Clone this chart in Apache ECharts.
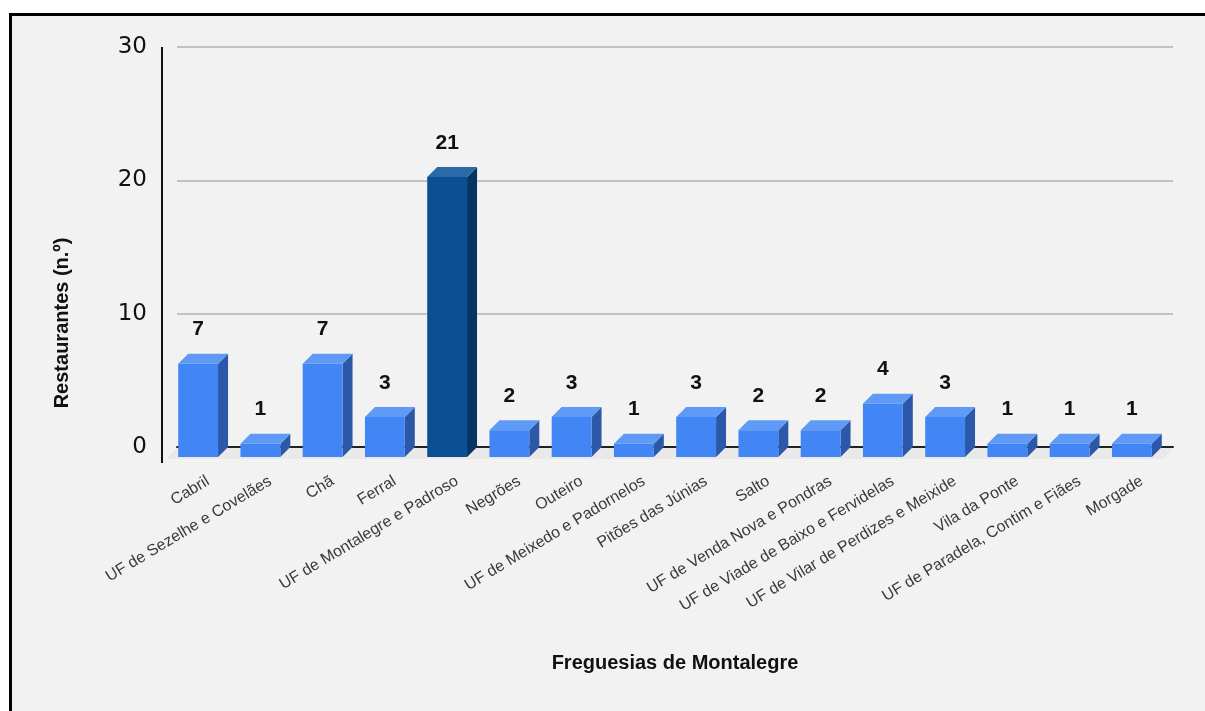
<!DOCTYPE html>
<html>
<head>
<meta charset="utf-8">
<script src="https://cdn.jsdelivr.net/npm/echarts@6/dist/echarts.min.js"></script>
<style>
  html, body { margin: 0; padding: 0; background: #ffffff; }
  #frame { position: absolute; left: 9px; top: 13px; width: 1300px; height: 800px;
           border-left: 3px solid #000; border-top: 3px solid #000; background: #f2f2f2; }
  #chart { position: absolute; left: 0; top: 0; width: 1205px; height: 711px; }
</style>
</head>
<body>
<div id="frame"></div>
<div id="chart"></div>
<script>
const categories = [
  'Cabril', 'UF de Sezelhe e Covelães', 'Chã', 'Ferral', 'UF de Montalegre e Padroso',
  'Negrões', 'Outeiro', 'UF de Meixedo e Padornelos', 'Pitões das Júnias', 'Salto',
  'UF de Venda Nova e Pondras', 'UF de Viade de Baixo e Fervidelas',
  'UF de Vilar de Perdizes e Meixide', 'Vila da Ponte', 'UF de Paradela, Contim e Fiães', 'Morgade'
];
const restaurants = [7, 1, 7, 3, 21, 2, 3, 1, 3, 2, 2, 4, 3, 1, 1, 1];
const yTicks = [0, 10, 20, 30];
const highlighted = 'UF de Montalegre e Padroso';

const xTitle = 'Freguesias de Montalegre';
const yTitle = 'Restaurantes (n.º)';

const normalColors = { front: '#4285f4', side: '#2b58a8', top: '#5f9bf6' };
const highColors = { front: '#0c4f92', side: '#073463', top: '#2b6aa8' };
const DX = 10, DY = 10;
const narrow = "'Liberation Sans Narrow', 'Arial Narrow', 'Liberation Sans', sans-serif";

const chart = echarts.init(document.getElementById('chart'), null, { renderer: 'canvas' });

function renderItem(params, api) {
  const idx = api.value(0);
  const v = api.value(1);
  const base = api.coord([idx, 0]);
  const top = api.coord([idx, v]);
  const band = api.size([1, 0])[0];
  const w = band * 0.64;
  const cx = base[0];
  const cs = params.coordSys;
  const col = categories[idx] === highlighted ? highColors : normalColors;
  const children = [];
  if (params.dataIndex === 0) {
    children.push({
      type: 'polygon',
      shape: { points: [[cs.x, base[1] + 1], [cs.x + cs.width, base[1] + 1],
                        [cs.x + cs.width - DX, base[1] + DY + 2], [cs.x - DX, base[1] + DY + 2]] },
      style: { fill: '#e9e9e9' }
    });
    children.push({
      type: 'line',
      shape: { x1: cs.x - 15, y1: cs.y, x2: cs.x - 15, y2: cs.y + cs.height + DY + 6 },
      style: { stroke: '#111', lineWidth: 2 }
    });
  }
  const fl = cx - DX - w / 2, fr = cx - DX + w / 2;
  children.push({
    type: 'polygon',
    shape: { points: [[fr, top[1] + DY], [cx + w / 2, top[1]], [cx + w / 2, base[1]], [fr, base[1] + DY]] },
    style: { fill: col.side }
  });
  children.push({
    type: 'polygon',
    shape: { points: [[fl, top[1] + DY], [cx - w / 2, top[1]], [cx + w / 2, top[1]], [fr, top[1] + DY]] },
    style: { fill: col.top }
  });
  children.push({
    type: 'rect',
    shape: { x: fl, y: top[1] + DY, width: w, height: base[1] - top[1] },
    style: { fill: col.front }
  });
  children.push({
    type: 'text',
    style: { text: String(v), x: cx - DX, y: top[1] - 24, align: 'center', verticalAlign: 'middle',
             fill: '#111', font: 'bold 21px ' + narrow }
  });
  return { type: 'group', children };
}

chart.setOption({
  backgroundColor: 'transparent',
  animation: false,
  grid: { left: 177, right: 32, top: 47, bottom: 264, containLabel: false },
  graphic: [{
    type: 'text',
    x: 62, y: 323,
    rotation: Math.PI / 2,
    style: { text: yTitle, align: 'center', verticalAlign: 'middle',
             font: 'bold 20px ' + narrow, fill: '#111' }
  }],
  xAxis: {
    type: 'category',
    data: categories,
    name: xTitle,
    nameLocation: 'middle',
    nameGap: 206,
    nameTextStyle: { fontFamily: narrow, fontWeight: 'bold', fontSize: 20, color: '#111' },
    axisLine: { show: true, lineStyle: { color: '#222', width: 2 } },
    axisTick: { show: false },
    axisLabel: { interval: 0, rotate: 31, margin: 33, fontFamily: "'Liberation Sans', Arial, sans-serif",
                 fontSize: 16, color: '#3a3a3a', hideOverlap: false }
  },
  yAxis: {
    type: 'value',
    min: yTicks[0], max: yTicks[yTicks.length - 1], interval: 10,
    axisLine: { show: false },
    axisTick: { show: false },
    axisLabel: { margin: 30, fontFamily: "'DejaVu Sans', sans-serif", fontSize: 23, color: '#111' },
    splitLine: { show: true, lineStyle: { color: '#c2c2c2', width: 2 } }
  },
  series: [{
    type: 'custom',
    renderItem,
    encode: { x: 0, y: 1 },
    data: restaurants.map((v, i) => [i, v]),
    clip: false
  }]
});
</script>
</body>
</html>
